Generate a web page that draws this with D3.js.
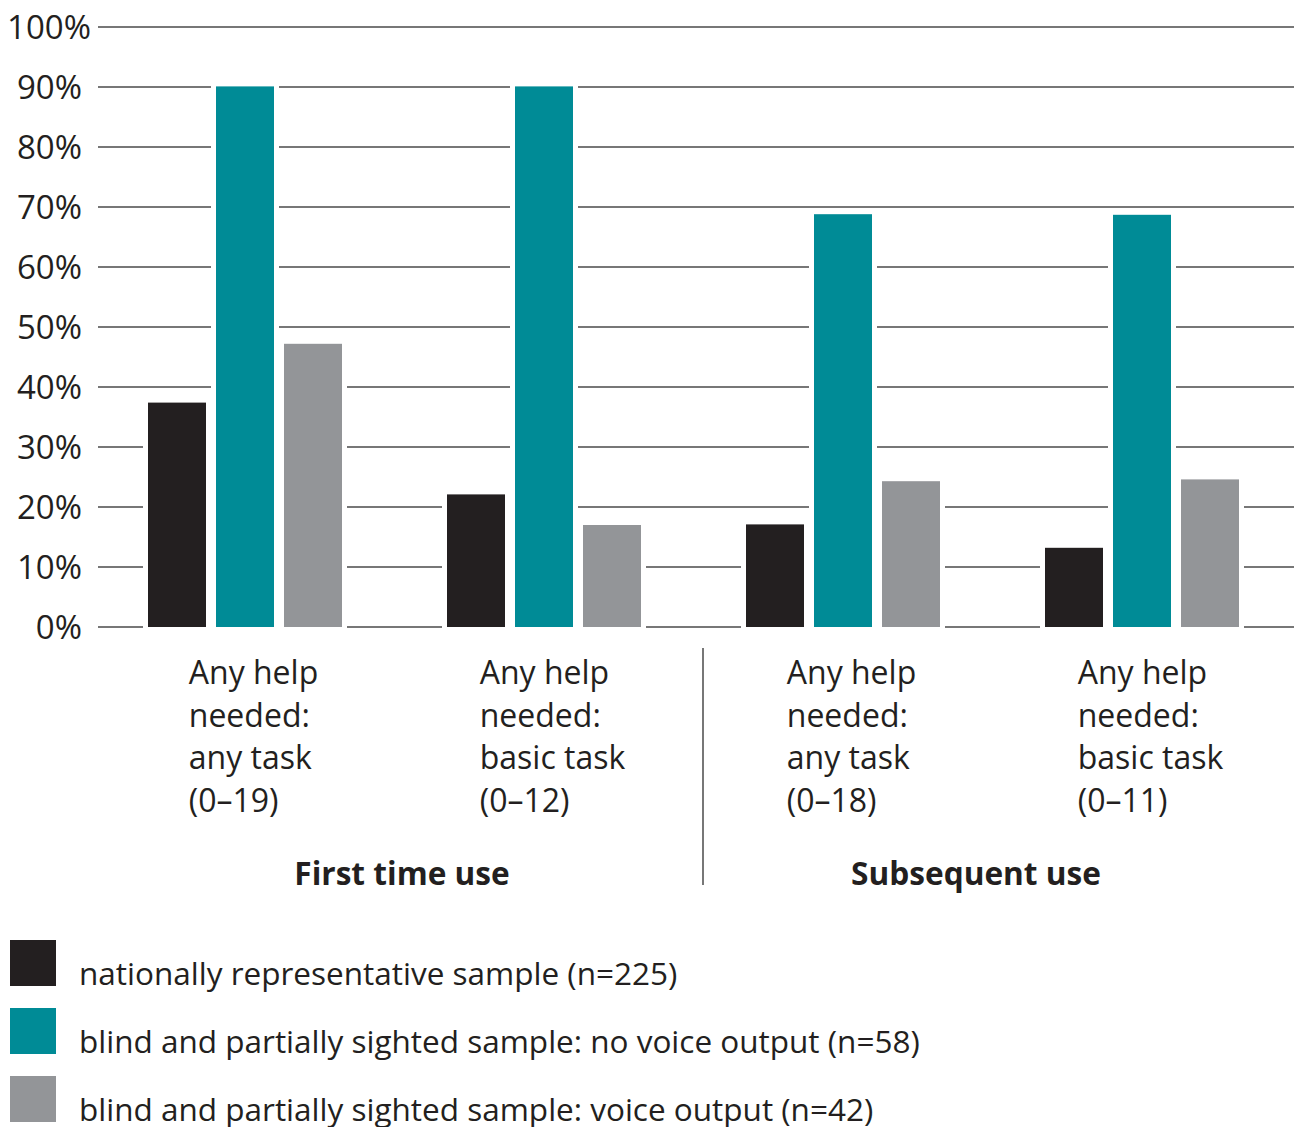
<!DOCTYPE html>
<html>
<head>
<meta charset="utf-8">
<script src="https://cdn.jsdelivr.net/npm/d3@7"></script>
<style>
  html, body { margin: 0; padding: 0; background: #fff; }
  svg text { font-family: "Open Sans", "Noto Sans", sans-serif; fill: #231f20; }
</style>
</head>
<body>
<svg id="chart" width="1294" height="1127"></svg>
<script>
// Category labels (one line per array entry), grouped under two headings
const categories = ["g1", "g2", "g3", "g4"];
const categoryLines = [
  ["Any help", "needed:", "any task", "(0–19)"],
  ["Any help", "needed:", "basic task", "(0–12)"],
  ["Any help", "needed:", "any task", "(0–18)"],
  ["Any help", "needed:", "basic task", "(0–11)"]
];
const groupTitles = ["First time use", "Subsequent use"];

// Series (percentage needing help)
const seriesNames = [
  "nationally representative sample (n=225)",
  "blind and partially sighted sample: no voice output (n=58)",
  "blind and partially sighted sample: voice output (n=42)"
];
const nationalSample = [37.4, 22.1, 17.1, 13.2];
const noVoiceOutput  = [90.1, 90.1, 68.8, 68.7];
const voiceOutput    = [47.2, 17.0, 24.3, 24.6];
const seriesColors = ["#231f20", "#008b96", "#939598"];

const yTicks = [0, 10, 20, 30, 40, 50, 60, 70, 80, 90, 100];

const svg = d3.select("#chart");

const plotLeft = 98, plotRight = 1294, plotTop = 27, plotBottom = 627;

const x = d3.scaleBand().domain(categories).range([plotLeft, plotRight]);
const xInner = d3.scaleBand().domain(d3.range(3)).range([50, 244]).paddingInner(10 / 68);
const y = d3.scaleLinear().domain([0, 100]).range([plotBottom, plotTop]);

// Horizontal gridlines
svg.append("g")
  .selectAll("line")
  .data(yTicks)
  .join("line")
  .attr("x1", plotLeft)
  .attr("x2", plotRight)
  .attr("y1", d => y(d))
  .attr("y2", d => y(d))
  .attr("stroke", "#4a4a4a")
  .attr("stroke-width", 1.5);

// Y tick labels
svg.append("g")
  .selectAll("text")
  .data(yTicks)
  .join("text")
  .attr("x", d => d === 100 ? 91 : 82)
  .attr("y", d => y(d))
  .attr("dy", "0.36em")
  .attr("text-anchor", "end")
  .attr("font-size", 33)
  .text(d => d + "%");

// Bars, each with a white halo that interrupts the gridlines
const seriesValues = [nationalSample, noVoiceOutput, voiceOutput];
const barData = [];
categories.forEach((c, ci) => {
  seriesValues.forEach((vals, si) => {
    barData.push({ cat: c, s: si, v: vals[ci] });
  });
});

svg.append("g")
  .selectAll("rect")
  .data(barData)
  .join("rect")
  .attr("x", d => x(d.cat) + xInner(d.s))
  .attr("width", xInner.bandwidth())
  .attr("y", d => y(d.v))
  .attr("height", d => y(0) - y(d.v))
  .attr("fill", d => seriesColors[d.s])
  .attr("stroke", "#fff")
  .attr("stroke-width", 10)
  .attr("paint-order", "stroke");

// Category labels: multi-line blocks centred under each group of bars
const labelG = svg.append("g");
categories.forEach((c, ci) => {
  const t = labelG.append("text")
    .attr("font-size", 32);
  categoryLines[ci].forEach((line, li) => {
    t.append("tspan")
      .attr("x", 0)
      .attr("y", 684 + li * 42.5)
      .text(line);
  });
  let w = 0;
  t.selectAll("tspan").each(function () { w = Math.max(w, this.getComputedTextLength()); });
  const cx = x(c) + x.bandwidth() / 2 + 6;
  t.attr("transform", `translate(${cx - w / 2},0)`);
});

// Divider between the two groups
const divX = x(categories[2]) + 7;
svg.append("line")
  .attr("x1", divX).attr("x2", divX)
  .attr("y1", 648).attr("y2", 885)
  .attr("stroke", "#4a4a4a")
  .attr("stroke-width", 1.5);

// Group headings
const titleX = [402, 976];
svg.append("g")
  .selectAll("text")
  .data(groupTitles)
  .join("text")
  .attr("x", (d, i) => titleX[i])
  .attr("y", 885)
  .attr("text-anchor", "middle")
  .attr("font-size", 31.6)
  .attr("font-weight", "bold")
  .text(d => d);

// Legend
const legend = svg.append("g")
  .selectAll("g")
  .data(seriesNames)
  .join("g")
  .attr("transform", (d, i) => `translate(10,${940 + i * 68})`);

legend.append("rect")
  .attr("width", 46)
  .attr("height", 46)
  .attr("fill", (d, i) => seriesColors[i]);

legend.append("text")
  .attr("x", 69)
  .attr("y", 45)
  .attr("font-size", 31.5)
  .text(d => d);
</script>
</body>
</html>
